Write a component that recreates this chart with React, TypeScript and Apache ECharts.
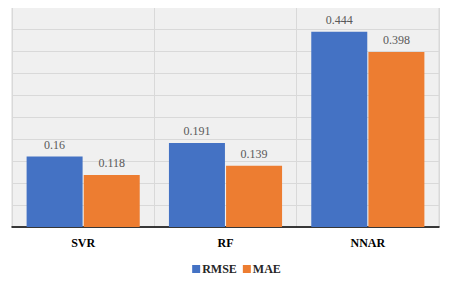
import React, { useEffect, useRef } from "react";
import * as echarts from "echarts";

const categories = ["SVR", "RF", "NNAR"];
const rmse = [0.16, 0.191, 0.444];
const mae = [0.118, 0.139, 0.398];

const SERIF = "Liberation Serif";

export default function App() {
  const ref = useRef<HTMLDivElement>(null);
  useEffect(() => {
    const chart = echarts.init(ref.current!, null, { renderer: "svg" });
    const labelStyle = {
      show: true,
      position: "top" as const,
      distance: 6,
      color: "#595959",
      fontFamily: SERIF,
      fontSize: 12,
    };
    chart.setOption({
      animation: false,
      backgroundColor: "#ffffff",
      textStyle: { fontFamily: SERIF },
      grid: {
        left: 12,
        right: 34,
        top: 7,
        bottom: 54,
        show: true,
        backgroundColor: "#f0f0f0",
        borderColor: "#d9d9d9",
        borderWidth: 1,
      },
      legend: {
        top: 258,
        left: "center",
        itemWidth: 8,
        itemHeight: 8,
        itemGap: 6,
        icon: "rect",
        textStyle: {
          fontFamily: SERIF,
          fontWeight: "bold",
          fontSize: 12,
          color: "#262626",
          padding: [0, 0, 0, -3],
        },
        data: ["RMSE", "MAE"],
      },
      xAxis: {
        type: "category",
        data: categories,
        axisLine: { lineStyle: { color: "#000", width: 1.5 } },
        axisTick: { show: false },
        splitLine: { show: true, lineStyle: { color: "#d9d9d9" } },
        axisLabel: {
          fontFamily: SERIF,
          fontWeight: "bold",
          fontSize: 12,
          color: "#000",
          margin: 10,
        },
      },
      yAxis: {
        type: "value",
        min: 0,
        max: 0.5,
        interval: 0.05,
        axisLabel: { show: false },
        axisLine: { show: false },
        axisTick: { show: false },
        splitLine: { lineStyle: { color: "#d9d9d9" } },
      },
      series: [
        {
          name: "RMSE",
          type: "bar",
          data: rmse,
          barWidth: 56,
          barGap: "2%",
          itemStyle: { color: "#4472C4" },
          label: labelStyle,
        },
        {
          name: "MAE",
          type: "bar",
          data: mae,
          barWidth: 56,
          itemStyle: { color: "#ED7D31" },
          label: labelStyle,
        },
      ],
    });
    return () => chart.dispose();
  }, []);
  return <div ref={ref} style={{ width: 473, height: 281, margin: -8 }} />;
}
